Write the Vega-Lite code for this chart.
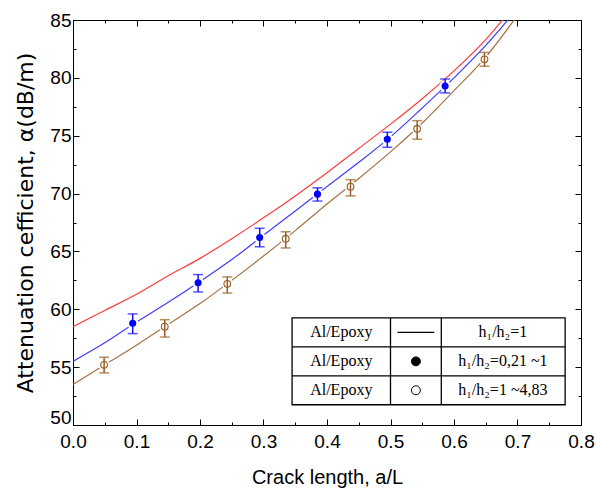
{
  "$schema": "https://vega.github.io/schema/vega-lite/v6.json",
  "width": 508,
  "height": 405,
  "autosize": "none",
  "padding": {"left": 73, "top": 20, "right": 16, "bottom": 70},
  "background": "white",
  "config": {
    "view": {"stroke": "black", "strokeWidth": 1},
    "axis": {
      "grid": false,
      "domainColor": "black",
      "tickColor": "black",
      "labelColor": "black",
      "labelFont": "Liberation Sans",
      "labelFontSize": 19,
      "titleColor": "black",
      "titleFontWeight": "normal"
    }
  },
  "datasets": {
    "lines": [
      {"x": 0, "y": 58.5, "s": "red"}, {"x": 0.05, "y": 59.9, "s": "red"}, {"x": 0.1, "y": 61.3, "s": "red"}, {"x": 0.15, "y": 62.9, "s": "red"}, {"x": 0.2, "y": 64.4, "s": "red"}, {"x": 0.25, "y": 66.1, "s": "red"}, {"x": 0.3, "y": 67.9, "s": "red"}, {"x": 0.35, "y": 69.8, "s": "red"}, {"x": 0.4, "y": 71.8, "s": "red"}, {"x": 0.45, "y": 73.9, "s": "red"}, {"x": 0.5, "y": 76.0, "s": "red"}, {"x": 0.55, "y": 78.2, "s": "red"}, {"x": 0.6, "y": 80.6, "s": "red"}, {"x": 0.65, "y": 83.3, "s": "red"}, {"x": 0.7, "y": 86.6, "s": "red"},
      {"x": 0, "y": 55.5, "s": "blue"}, {"x": 0.05, "y": 57.1, "s": "blue"}, {"x": 0.1, "y": 58.9, "s": "blue"}, {"x": 0.15, "y": 60.6, "s": "blue"}, {"x": 0.2, "y": 62.4, "s": "blue"}, {"x": 0.25, "y": 64.3, "s": "blue"}, {"x": 0.3, "y": 66.4, "s": "blue"}, {"x": 0.35, "y": 68.5, "s": "blue"}, {"x": 0.4, "y": 70.6, "s": "blue"}, {"x": 0.45, "y": 72.7, "s": "blue"}, {"x": 0.5, "y": 74.9, "s": "blue"}, {"x": 0.55, "y": 77.4, "s": "blue"}, {"x": 0.6, "y": 80.0, "s": "blue"}, {"x": 0.65, "y": 82.8, "s": "blue"}, {"x": 0.7, "y": 86.0, "s": "blue"},
      {"x": 0, "y": 53.5, "s": "brown"}, {"x": 0.05, "y": 55.2, "s": "brown"}, {"x": 0.1, "y": 56.9, "s": "brown"}, {"x": 0.15, "y": 58.7, "s": "brown"}, {"x": 0.2, "y": 60.5, "s": "brown"}, {"x": 0.25, "y": 62.5, "s": "brown"}, {"x": 0.3, "y": 64.6, "s": "brown"}, {"x": 0.35, "y": 66.8, "s": "brown"}, {"x": 0.4, "y": 69.1, "s": "brown"}, {"x": 0.45, "y": 71.3, "s": "brown"}, {"x": 0.5, "y": 73.6, "s": "brown"}, {"x": 0.55, "y": 76.1, "s": "brown"}, {"x": 0.6, "y": 78.9, "s": "brown"}, {"x": 0.65, "y": 81.8, "s": "brown"}, {"x": 0.7, "y": 85.4, "s": "brown"}
    ],
    "pts": [
      {"x": 0.094, "y": 58.8, "lo": 57.9, "hi": 59.6, "s": "blue"},
      {"x": 0.197, "y": 62.3, "lo": 61.5, "hi": 63.0, "s": "blue"},
      {"x": 0.294, "y": 66.2, "lo": 65.4, "hi": 67.0, "s": "blue"},
      {"x": 0.385, "y": 69.95, "lo": 69.35, "hi": 70.5, "s": "blue"},
      {"x": 0.495, "y": 74.7, "lo": 74.0, "hi": 75.3, "s": "blue"},
      {"x": 0.586, "y": 79.3, "lo": 78.7, "hi": 79.9, "s": "blue"},
      {"x": 0.049, "y": 55.2, "lo": 54.5, "hi": 55.85, "s": "brown"},
      {"x": 0.1445, "y": 58.5, "lo": 57.6, "hi": 59.1, "s": "brown"},
      {"x": 0.243, "y": 62.2, "lo": 61.4, "hi": 62.8, "s": "brown"},
      {"x": 0.335, "y": 66.1, "lo": 65.3, "hi": 66.7, "s": "brown"},
      {"x": 0.437, "y": 70.6, "lo": 69.8, "hi": 71.2, "s": "brown"},
      {"x": 0.542, "y": 75.6, "lo": 74.7, "hi": 76.3, "s": "brown"},
      {"x": 0.648, "y": 81.6, "lo": 81.0, "hi": 82.2, "s": "brown"}
    ],
    "grid": [
      {"x1": 0.345, "x2": 0.775, "y1": 56.75, "y2": 56.75},
      {"x1": 0.345, "x2": 0.775, "y1": 54.25, "y2": 54.25},
      {"x1": 0.5, "x2": 0.5, "y1": 51.75, "y2": 59.25},
      {"x1": 0.58, "x2": 0.58, "y1": 51.75, "y2": 59.25}
    ],
    "frame": [{"x1": 0.345, "x2": 0.775, "y1": 51.75, "y2": 59.25}],
    "txt": [
      {"x": 0.4225, "y": 58.0, "t": "Al/Epoxy"},
      {"x": 0.4225, "y": 55.5, "t": "Al/Epoxy"},
      {"x": 0.4225, "y": 53.0, "t": "Al/Epoxy"},
      {"x": 0.677, "y": 58.0, "t": "h₁/h₂=1"},
      {"x": 0.677, "y": 55.5, "t": "h₁/h₂=0,21 ~1"},
      {"x": 0.677, "y": 53.0, "t": "h₁/h₂=1 ~4,83"}
    ],
    "legline": [{"x1": 0.511, "x2": 0.569, "y": 58.0}],
    "legsym": [{"x": 0.54, "y": 55.5, "k": "filled"}, {"x": 0.54, "y": 53.0, "k": "open"}]
  },
  "layer": [
    {
      "data": {"name": "lines"},
      "mark": {"type": "line", "clip": true, "strokeWidth": 1.2, "interpolate": "monotone"},
      "encoding": {
        "x": {
          "field": "x", "type": "quantitative",
          "scale": {"domain": [0, 0.8], "nice": false, "zero": false},
          "axis": {
            "orient": "bottom",
            "values": [0, 0.05, 0.1, 0.15, 0.2, 0.25, 0.3, 0.35, 0.4, 0.45, 0.5, 0.55, 0.6, 0.65, 0.7, 0.75, 0.8],
            "labelExpr": "abs(datum.value*10 - round(datum.value*10)) < 0.001 ? format(datum.value, '.1f') : ''",
            "tickSize": {"condition": {"test": "abs(datum.value*10 - round(datum.value*10)) < 0.001", "value": -6}, "value": -3},
            "labelPadding": 13,
            "labelFlush": false,
            "labelOverlap": false,
            "title": "Crack length, a/L",
            "titleFont": "Liberation Sans",
            "titleFontSize": 20,
            "titlePadding": 13
          }
        },
        "y": {
          "field": "y", "type": "quantitative",
          "scale": {"domain": [50, 85], "nice": false, "zero": false},
          "axis": {
            "orient": "left",
            "values": [50, 52.5, 55, 57.5, 60, 62.5, 65, 67.5, 70, 72.5, 75, 77.5, 80, 82.5, 85],
            "labelExpr": "datum.value % 5 == 0 ? format(datum.value, 'd') : ''",
            "labelOffset": {"condition": {"test": "datum.value == 50", "value": -8}, "value": 0},
            "tickSize": {"condition": {"test": "datum.value % 5 == 0", "value": -6}, "value": -3},
            "labelPadding": 8,
            "labelFlush": false,
            "labelOverlap": false,
            "title": "Attenuation cefficient, α(dB/m)",
            "titleFont": "DejaVu Sans",
            "titleFontSize": 22,
            "titlePadding": 12
          }
        },
        "color": {
          "field": "s", "type": "nominal",
          "scale": {"domain": ["red", "blue", "brown"], "range": ["#ff3a3a", "#3d3dff", "#a47245"]},
          "legend": null
        }
      }
    },
    {
      "data": {"name": "pts"},
      "mark": {"type": "point", "shape": "circle", "filled": true, "size": 130, "color": "white", "opacity": 1},
      "encoding": {
        "x": {
          "field": "x", "type": "quantitative",
          "axis": {
            "orient": "top",
            "values": [0, 0.05, 0.1, 0.15, 0.2, 0.25, 0.3, 0.35, 0.4, 0.45, 0.5, 0.55, 0.6, 0.65, 0.7, 0.75, 0.8],
            "labels": false,
            "title": null,
            "tickSize": {"condition": {"test": "abs(datum.value*10 - round(datum.value*10)) < 0.001", "value": -6}, "value": -3}
          }
        },
        "y": {
          "field": "y", "type": "quantitative",
          "axis": {
            "orient": "right",
            "values": [50, 52.5, 55, 57.5, 60, 62.5, 65, 67.5, 70, 72.5, 75, 77.5, 80, 82.5, 85],
            "labels": false,
            "title": null,
            "tickSize": {"condition": {"test": "datum.value % 5 == 0", "value": -6}, "value": -3}
          }
        }
      }
    },
    {
      "data": {"name": "pts"},
      "mark": {"type": "rule", "strokeWidth": 1.5},
      "encoding": {
        "x": {"field": "x", "type": "quantitative", "axis": null},
        "y": {"field": "lo", "type": "quantitative", "axis": null},
        "y2": {"field": "hi"},
        "color": {"field": "s", "type": "nominal", "scale": {"domain": ["blue", "brown"], "range": ["#1010ff", "#9a5c22"]}, "legend": null}
      }
    },
    {
      "data": {"name": "pts"},
      "mark": {"type": "tick", "orient": "horizontal", "size": 10, "thickness": 1.5},
      "encoding": {
        "x": {"field": "x", "type": "quantitative", "axis": null},
        "y": {"field": "lo", "type": "quantitative", "axis": null},
        "color": {"field": "s", "type": "nominal", "scale": {"domain": ["blue", "brown"], "range": ["#1010ff", "#9a5c22"]}, "legend": null}
      }
    },
    {
      "data": {"name": "pts"},
      "mark": {"type": "tick", "orient": "horizontal", "size": 10, "thickness": 1.5},
      "encoding": {
        "x": {"field": "x", "type": "quantitative", "axis": null},
        "y": {"field": "hi", "type": "quantitative", "axis": null},
        "color": {"field": "s", "type": "nominal", "scale": {"domain": ["blue", "brown"], "range": ["#1010ff", "#9a5c22"]}, "legend": null}
      }
    },
    {
      "data": {"name": "pts"},
      "transform": [{"filter": "datum.s == 'blue'"}],
      "mark": {"type": "point", "shape": "circle", "filled": true, "size": 50, "color": "#0000ff", "opacity": 1},
      "encoding": {
        "x": {"field": "x", "type": "quantitative", "axis": null},
        "y": {"field": "y", "type": "quantitative", "axis": null}
      }
    },
    {
      "data": {"name": "pts"},
      "transform": [{"filter": "datum.s == 'brown'"}],
      "mark": {"type": "point", "shape": "circle", "filled": false, "size": 45, "strokeWidth": 1.1, "color": "#9a5c22", "opacity": 1},
      "encoding": {
        "x": {"field": "x", "type": "quantitative", "axis": null},
        "y": {"field": "y", "type": "quantitative", "axis": null}
      }
    },
    {
      "data": {"name": "frame"},
      "mark": {"type": "rect", "fill": "white", "stroke": "black", "strokeWidth": 1.3},
      "encoding": {
        "x": {"field": "x1", "type": "quantitative", "axis": null},
        "x2": {"field": "x2"},
        "y": {"field": "y1", "type": "quantitative", "axis": null},
        "y2": {"field": "y2"}
      }
    },
    {
      "data": {"name": "grid"},
      "mark": {"type": "rule", "color": "black", "strokeWidth": 1.3},
      "encoding": {
        "x": {"field": "x1", "type": "quantitative", "axis": null},
        "x2": {"field": "x2"},
        "y": {"field": "y1", "type": "quantitative", "axis": null},
        "y2": {"field": "y2"}
      }
    },
    {
      "data": {"name": "legline"},
      "mark": {"type": "rule", "color": "black", "strokeWidth": 1.2},
      "encoding": {
        "x": {"field": "x1", "type": "quantitative", "axis": null},
        "x2": {"field": "x2"},
        "y": {"field": "y", "type": "quantitative", "axis": null}
      }
    },
    {
      "data": {"name": "legsym"},
      "mark": {"type": "point", "shape": "circle", "size": 80, "strokeWidth": 1, "color": "black", "opacity": 1},
      "encoding": {
        "x": {"field": "x", "type": "quantitative", "axis": null},
        "y": {"field": "y", "type": "quantitative", "axis": null},
        "fill": {"field": "k", "type": "nominal", "scale": {"domain": ["filled", "open"], "range": ["black", "white"]}, "legend": null}
      }
    },
    {
      "data": {"name": "txt"},
      "mark": {"type": "text", "font": "Liberation Serif", "fontSize": 16, "color": "black", "align": "center", "baseline": "middle"},
      "encoding": {
        "x": {"field": "x", "type": "quantitative", "axis": null},
        "y": {"field": "y", "type": "quantitative", "axis": null},
        "text": {"field": "t"}
      }
    }
  ],
  "resolve": {"axis": {"x": "independent", "y": "independent"}, "scale": {"color": "independent", "fill": "independent"}}
}
